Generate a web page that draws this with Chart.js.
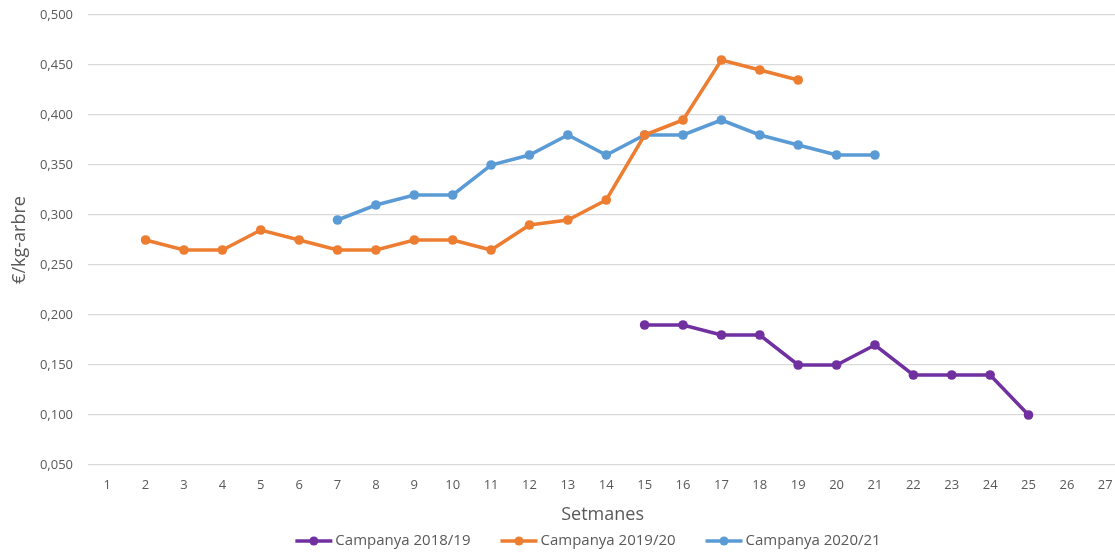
<!DOCTYPE html>
<html>
<head>
<meta charset="utf-8">
<script src="https://cdn.jsdelivr.net/npm/chart.js@4.4.1/dist/chart.umd.min.js"></script>
<style>
  html, body { margin: 0; padding: 0; background: #ffffff; overflow: hidden; }
  #wrap { width: 1115px; height: 556px; position: relative; overflow: hidden; }
  #c { display: block; }
</style>
</head>
<body>
<div id="wrap"><canvas id="c" width="1122" height="556"></canvas></div>
<script>
// ---- Data ----
const weeks = [1,2,3,4,5,6,7,8,9,10,11,12,13,14,15,16,17,18,19,20,21,22,23,24,25,26,27];
const seriesNames = ["Campanya 2018/19", "Campanya 2019/20", "Campanya 2020/21"];
const seriesColors = ["#7030a0", "#ed7d31", "#5b9bd5"];
// values per week (null = no data)
const camp2018 = [null,null,null,null,null,null,null,null,null,null,null,null,null,null,
  0.190,0.190,0.180,0.180,0.150,0.150,0.170,0.140,0.140,0.140,0.100,null,null];
const camp2019 = [null,0.275,0.265,0.265,0.285,0.275,0.265,0.265,0.275,0.275,0.265,0.290,0.295,0.315,
  0.380,0.395,0.455,0.445,0.435,null,null,null,null,null,null,null,null];
const camp2020 = [null,null,null,null,null,null,0.295,0.310,0.320,0.320,0.350,0.360,0.380,0.360,
  0.380,0.380,0.395,0.380,0.370,0.360,0.360,null,null,null,null,null,null];
const yTicks = [0.050,0.100,0.150,0.200,0.250,0.300,0.350,0.400,0.450,0.500];
const xTitle = "Setmanes";
const yTitle = "€/kg-arbre";

const FONT = "'Open Sans', 'Liberation Sans', sans-serif";
const TXT = "#595959";

function toPoints(arr) {
  return weeks.map((w, i) => ({ x: w, y: arr[i] })).filter(p => p.y !== null);
}
const allSeries = [camp2018, camp2019, camp2020];

// custom legend: line + marker + text, centered under chart
const excelLegend = {
  id: 'excelLegend',
  afterDraw(chart) {
    const ctx = chart.ctx;
    ctx.save();
    ctx.font = "15px " + FONT;
    const markW = 37, gapText = 3, gapItem = 30;
    const widths = seriesNames.map(n => ctx.measureText(n).width);
    let total = 0;
    widths.forEach((w, i) => { total += markW + gapText + w + (i < widths.length - 1 ? gapItem : 0); });
    let x = 588 - total / 2;
    const y = 541;
    seriesNames.forEach((n, i) => {
      ctx.strokeStyle = seriesColors[i];
      ctx.lineWidth = 3.5;
      ctx.beginPath();
      ctx.moveTo(x, y);
      ctx.lineTo(x + markW, y);
      ctx.stroke();
      ctx.fillStyle = seriesColors[i];
      ctx.beginPath();
      ctx.arc(x + markW / 2, y, 4.5, 0, Math.PI * 2);
      ctx.fill();
      ctx.fillStyle = TXT;
      ctx.textBaseline = 'middle';
      ctx.textAlign = 'left';
      ctx.fillText(n, x + markW + gapText, y);
      x += markW + gapText + widths[i] + gapItem;
    });
    ctx.restore();
  }
};

new Chart(document.getElementById('c'), {
  type: 'line',
  data: {
    datasets: allSeries.map((arr, i) => ({
      label: seriesNames[i],
      data: toPoints(arr),
      borderColor: seriesColors[i],
      backgroundColor: seriesColors[i],
      borderWidth: 3.5,
      pointRadius: 4.8,
      pointHoverRadius: 4.8,
      pointBorderWidth: 0,
      tension: 0,
      fill: false
    }))
  },
  options: {
    responsive: false,
    animation: false,
    layout: { padding: { top: 15, right: 0, left: 0, bottom: 30 } },
    plugins: {
      legend: { display: false },
      tooltip: { enabled: false }
    },
    scales: {
      x: {
        type: 'linear',
        min: 0.5,
        max: 27.31,
        afterBuildTicks(scale) { scale.ticks = weeks.map(w => ({ value: w })); },
        afterFit(scale) { scale.height = 61; scale.paddingRight = 0; scale.paddingLeft = 0; },
        grid: { display: false, drawTicks: false },
        border: { display: false },
        ticks: {
          autoSkip: false,
          maxRotation: 0,
          padding: 12,
          color: TXT,
          font: { family: FONT, size: 13 },
          callback: v => String(v)
        },
        title: {
          display: true,
          text: xTitle,
          color: TXT,
          font: { family: FONT, size: 18 },
          padding: { top: 0, bottom: 0 }
        }
      },
      y: {
        min: 0.05,
        max: 0.5,
        afterBuildTicks(scale) { scale.ticks = yTicks.map(v => ({ value: v })); },
        afterFit(scale) { scale.width = 88; scale.paddingTop = 0; scale.paddingBottom = 0; },
        grid: { color: "#d9d9d9", lineWidth: 1.3, drawTicks: false },
        border: { display: false },
        ticks: {
          padding: 15,
          color: TXT,
          font: { family: FONT, size: 13 },
          callback: v => v.toFixed(3).replace('.', ',')
        },
        title: {
          display: true,
          text: yTitle,
          color: TXT,
          font: { family: FONT, size: 18 },
          padding: { top: 9, bottom: 0 }
        }
      }
    }
  },
  plugins: [excelLegend]
});
</script>
</body>
</html>
